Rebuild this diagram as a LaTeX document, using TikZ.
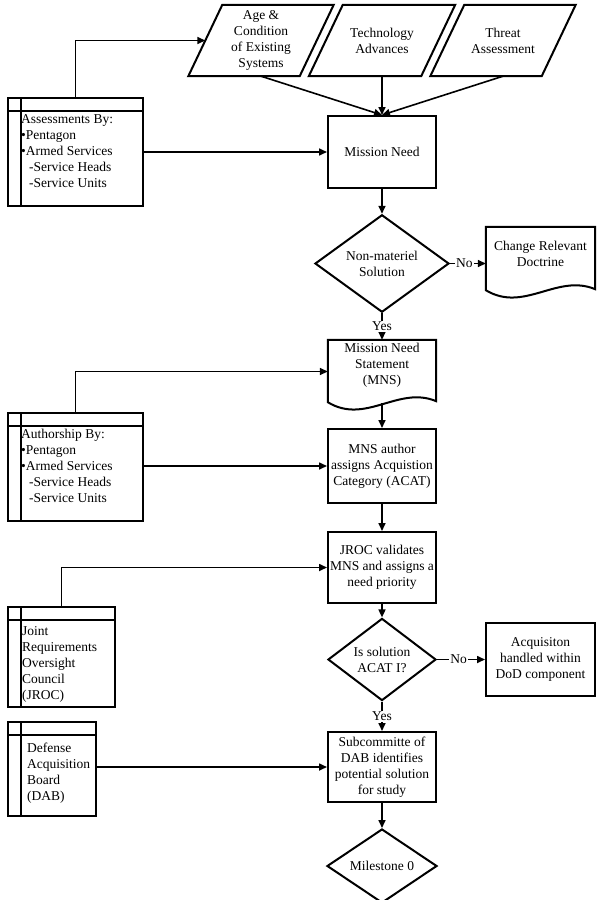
\documentclass[tikz,border=0pt]{standalone}
\usepackage{fontspec}
\setmainfont{Liberation Serif}
\usetikzlibrary{arrows.meta,shapes.geometric,calc}
\begin{document}
\begin{tikzpicture}[x=1pt,y=-1pt,
  every node/.style={font=\fontsize{13.5}{16}\selectfont, inner sep=0pt},
  frame/.style={draw, line width=2pt},
  procbox/.style={frame, rectangle, align=center, minimum width=108pt},
  decision/.style={frame, diamond, align=center},
  arr/.style={line width=1.6pt, -{Triangle[length=8pt,width=7pt]}},
  listtext/.style={align=left, anchor=west},
  lbl/.style={fill=white, inner sep=1pt}
]
\useasboundingbox (0,0) rectangle (600,900);

% input parallelograms
\node (p1) [minimum width=111pt, minimum height=71pt, align=center] at (261,40.5) {Age \&\\Condition\\of Existing\\Systems};
\node (p2) [minimum width=112pt, minimum height=71pt, align=center] at (382,40.5) {Technology\\Advances};
\node (p3) [minimum width=111pt, minimum height=71pt, align=center] at (503,40.5) {Threat\\Assessment};
\foreach \p in {p1,p2,p3}{
  \draw[frame] ($(\p.north west)+(17,0)$) -- ($(\p.north east)+(17,0)$) -- ($(\p.south east)+(-17,0)$) -- ($(\p.south west)+(-17,0)$) -- cycle;
}

% main column
\node (mn) [procbox, minimum height=72pt] at (382,152) {Mission Need};
\node (d1) [decision, minimum width=134pt, minimum height=89pt] at (382,263.5) {Non-materiel\\Solution};

\node (doc1) [minimum width=109pt, minimum height=64pt] at (540.5,259) {};
\draw[frame] ($(doc1.south west)+(0,-1)$) -- (doc1.north west) -- (doc1.north east) -- ($(doc1.south east)+(0,-2)$)
  .. controls ($(doc1.south east)+(-38.15,-18)$) and ($(doc1.south west)+(38.15,22)$) .. ($(doc1.south west)+(0,-1)$) -- cycle;
\node (doc1t) [align=center] at (540.5,253.5) {Change Relevant\\Doctrine};

\node (mns) [minimum width=108pt, minimum height=63pt] at (382,371.5) {};
\draw[frame] ($(mns.south west)+(0,-1)$) -- (mns.north west) -- (mns.north east) -- ($(mns.south east)+(0,-2)$)
  .. controls ($(mns.south east)+(-37.8,-18)$) and ($(mns.south west)+(37.8,22)$) .. ($(mns.south west)+(0,-1)$) -- cycle;
\node (mnst) [align=center] at (382,365) {Mission Need\\Statement\\(MNS)};

\node (auth) [procbox, minimum height=74pt] at (382,466) {MNS author\\assigns Acquistion\\Category (ACAT)};
\node (jroc) [procbox, minimum height=71pt] at (382,567.5) {JROC validates\\MNS and assigns a\\need priority};
\node (d2) [decision, minimum width=108pt, minimum height=69pt] at (382,659.5) {Is solution\\ACAT I?};
\node (acq) [procbox, minimum width=109pt, minimum height=73pt] at (540.5,659.5) {Acquisiton\\handled within\\DoD component};
\node (sub) [procbox, minimum height=70pt] at (382,767) {Subcommitte of\\DAB identifies\\potential solution\\for study};
\node (d3) [decision, minimum width=110pt, minimum height=74pt] at (382,866) {Milestone 0};

% left list boxes
\node (b1) [frame, minimum width=135pt, minimum height=108pt] at (75.5,152) {};
\node (b2) [frame, minimum width=135pt, minimum height=108pt] at (75.5,467) {};
\node (b3) [frame, minimum width=107pt, minimum height=100pt] at (61.5,657) {};
\node (b4) [frame, minimum width=88pt, minimum height=94pt] at (52,769) {};
\foreach \b in {b1,b2,b3,b4}{
  \draw[frame] ($(\b.north west)+(0,14)$) -- ($(\b.north east)+(0,14)$);
  \draw[frame] ($(\b.north west)+(14,0)$) -- ($(\b.south west)+(14,0)$);
}
\node (b1t) [listtext] at (21,151) {Assessments By:\\•Pentagon\\•Armed Services\\\hspace*{8pt}-Service Heads\\\hspace*{8pt}-Service Units};
\node (b2t) [listtext] at (21,466) {Authorship By:\\•Pentagon\\•Armed Services\\\hspace*{8pt}-Service Heads\\\hspace*{8pt}-Service Units};
\node (b3t) [listtext] at (22,664) {Joint\\Requirements\\Oversight\\Council\\(JROC)};
\node (b4t) [listtext] at (27,773.5) {Defense\\Acquisition\\Board\\(DAB)};

% connectors
\draw[arr] (b1.north) |- (p1.west);
\draw[arr] (b1.east) -- (mn.west);
\draw[arr] (p1.south) -- (mn.north);
\draw[arr] (p2.south) -- (mn.north);
\draw[arr] (p3.south) -- (mn.north);
\draw[arr] (mn.south) -- (d1.north);
\draw[arr] (d1.east) -- node[lbl, pos=0.4]{No} (d1.east -| doc1.west);
\draw[arr] (d1.south) -- node[lbl]{Yes} (mns.north);
\draw[arr] (b2.north) |- (mns.west);
\draw[arr] (auth.west -| b2.east) -- (auth.west);
\draw[arr] (mns.south) -- (auth.north);
\draw[arr] (auth.south) -- (jroc.north);
\draw[arr] (b3.north) |- (jroc.west);
\draw[arr] (jroc.south) -- (d2.north);
\draw[arr] (d2.east) -- node[lbl, pos=0.45]{No} (acq.west);
\draw[arr] (d2.south) -- node[lbl]{Yes} (sub.north);
\draw[arr] (sub.west -| b4.east) -- (sub.west);
\draw[arr] (sub.south) -- (d3.north);
\end{tikzpicture}
\end{document}
